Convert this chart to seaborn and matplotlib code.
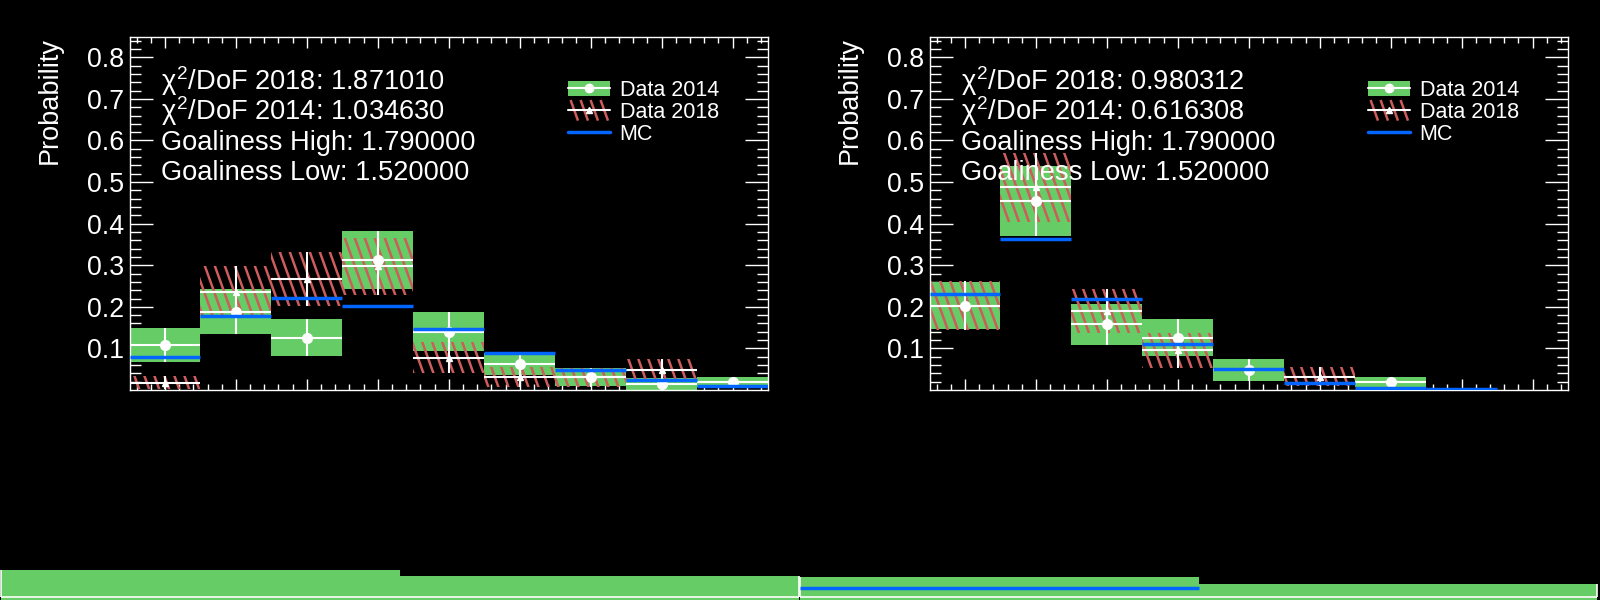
import numpy as np
import matplotlib
matplotlib.use("Agg")
import matplotlib.pyplot as plt
import seaborn as sns
from matplotlib.patches import Rectangle, Patch
from matplotlib.collections import LineCollection
from matplotlib.lines import Line2D
from matplotlib.legend_handler import HandlerBase, HandlerTuple

nan = np.nan

# bins of the upper pads
bins = np.arange(9)

# left pad
left_2014 = [0.109, 0.188, 0.126, 0.313, 0.140, 0.062, 0.031, 0.015, 0.019]
left_2014_err = [0.041, 0.054, 0.044, 0.070, 0.047, 0.026, 0.022, 0.015, 0.012]
left_2018 = [0.018, 0.235, 0.267, 0.297, 0.078, 0.032, 0.031, 0.049, nan]
left_2018_err = [0.016, 0.063, 0.066, 0.069, 0.038, 0.024, 0.023, 0.026, nan]
left_mc = [0.079, 0.177, 0.222, 0.201, 0.146, 0.090, 0.048, 0.024, 0.010]
left_stats = [r"$\chi^{2}$/DoF 2018: 1.871010", r"$\chi^{2}$/DoF 2014: 1.034630",
              "Goaliness High: 1.790000", "Goaliness Low: 1.520000"]

# right pad
right_2014 = [0.203, 0.454, 0.158, 0.126, 0.048, nan, 0.019, nan, nan]
right_2014_err = [0.056, 0.084, 0.049, 0.044, 0.027, nan, 0.012, nan, nan]
right_2018 = [0.203, 0.487, 0.190, 0.095, nan, 0.032, nan, nan, nan]
right_2018_err = [0.058, 0.083, 0.054, 0.041, nan, 0.023, nan, nan, nan]
right_mc = [0.230, 0.362, 0.218, 0.110, 0.050, 0.018, 0.006, 0.003, nan]
right_stats = [r"$\chi^{2}$/DoF 2018: 0.980312", r"$\chi^{2}$/DoF 2014: 0.616308",
               "Goaliness High: 1.790000", "Goaliness Low: 1.520000"]

# lower pads (only a sliver is visible)
low_bins = [0, 1]
low_left = [0.50, 0.40]
low_right = [0.383, 0.267]
low_right_mc = [0.20, nan]

green = "#66cc66"
blue = "#0066ff"
red = "#cd5c5c"

sns.set_theme(style="dark", rc={
    "figure.facecolor": "black", "axes.facecolor": "black",
    "axes.edgecolor": "white", "text.color": "white",
    "axes.labelcolor": "white", "xtick.color": "white",
    "ytick.color": "white", "axes.grid": False, "axes.linewidth": 1.0,
})
plt.rcParams["font.family"] = ["Liberation Sans", "DejaVu Sans"]
plt.rcParams["mathtext.fontset"] = "custom"
plt.rcParams["mathtext.rm"] = "Liberation Sans"
plt.rcParams["mathtext.it"] = "Liberation Sans"
plt.rcParams["mathtext.bf"] = "Liberation Sans:bold"

# hatch: steep "\" lines, ~10 px apart
SLOPE = 0.36
STEP_PX = 10.0
HATCH_LW = 1.8


def hatch_segments(x0, y0, w, h, step):
    # "\" lines clipped to the box [x0, x0+w] x [y0, y0+h]
    segs = []
    for c in np.arange(x0, x0 + w + SLOPE * h + step, step):
        lo = max(0.0, (c - x0 - w) / SLOPE)
        hi = min(h, (c - x0) / SLOPE)
        if hi > lo:
            segs.append([(c - SLOPE * lo, y0 + lo), (c - SLOPE * hi, y0 + hi)])
    return segs


class Hatch18(HandlerBase):
    def create_artists(self, legend, orig, xd, yd, w, h, fs, trans):
        segs = hatch_segments(-xd, -yd - 2, w, h + 4, STEP_PX * 0.72)
        lc = LineCollection(segs, colors=red, linewidths=HATCH_LW, transform=trans)
        ym = -yd + h / 2
        ln = Line2D([-xd, -xd + w], [ym, ym], color="white", lw=1.5, transform=trans)
        mk = Line2D([-xd + w / 2], [ym], marker="^", ms=5, color="white",
                    ls="none", transform=trans)
        return [lc, ln, mk]


def draw_panel(ax, v14, e14, v18, e18, mc, stats, W, H):
    v14, e14 = np.array(v14), np.array(e14)
    v18, e18 = np.array(v18), np.array(e18)
    mc = np.array(mc)
    ax.set_xlim(-0.5, 8.5)
    ax.set_ylim(0, 0.85)

    # data 2014 error boxes
    for x, v, e in zip(bins, v14, e14):
        if np.isnan(v):
            continue
        ax.add_patch(Rectangle((x - 0.5, v - e), 1, 2 * e, fc=green, ec="none", zorder=1))

    # data 2018 hatched error boxes
    cs = np.arange(0, W + SLOPE * H + STEP_PX, STEP_PX)
    segs = [[(c / W, 0), ((c - SLOPE * H) / W, 1)] for c in cs]
    for x, v, e in zip(bins, v18, e18):
        if np.isnan(v):
            continue
        rect = Rectangle((x - 0.5, v - e), 1, 2 * e, transform=ax.transData,
                         fc="none", ec="none")
        ax.add_patch(rect)
        lc = LineCollection(segs, colors=red, linewidths=HATCH_LW,
                            transform=ax.transAxes, zorder=2)
        ax.add_collection(lc, autolim=False)
        lc.set_clip_path(rect)

    m = ~np.isnan(v14)
    ax.errorbar(bins[m], v14[m], xerr=0.5, yerr=e14[m], fmt="o", color="white",
                ms=7, elinewidth=1.5, capsize=0, zorder=3)
    m = ~np.isnan(v18)
    ax.errorbar(bins[m], v18[m], xerr=0.5, yerr=e18[m], fmt="^", color="white",
                ms=5, elinewidth=1.5, capsize=0, zorder=3)
    m = ~np.isnan(mc)
    ax.hlines(mc[m], bins[m] - 0.5, bins[m] + 0.5, color=blue, lw=2.5, zorder=4)

    ax.set_xticks(bins)
    ax.set_xticks(np.arange(-0.4, 8.5, 0.2), minor=True)
    ax.set_yticks(np.arange(0.1, 0.81, 0.1))
    ax.set_yticklabels([f"{t:.1f}" for t in np.arange(0.1, 0.81, 0.1)])
    ax.set_yticks(np.arange(0.02, 0.85, 0.02), minor=True)
    ax.tick_params(which="both", direction="in", top=True, right=True,
                   bottom=True, left=True, labelbottom=False, width=1,
                   colors="white", labelsize=19.3, pad=4)
    ax.tick_params(axis="y", which="major", length=16.5)
    ax.tick_params(axis="y", which="minor", length=8)
    ax.tick_params(axis="x", which="major", length=7.7)
    ax.tick_params(axis="x", which="minor", length=4)
    for sp in ax.spines.values():
        sp.set_color("white")
        sp.set_linewidth(1)

    for i, s in enumerate(stats):
        ax.text(0.049, 0.849 - i * 0.0849, s, transform=ax.transAxes,
                fontsize=19.6, ha="left", va="baseline", color="white")


fig = plt.figure(figsize=(16, 6), dpi=100)
W, H = 638.5, 353.5
ax1 = fig.add_axes([129.5 / 1600, 210 / 600, W / 1600, H / 600])
ax2 = fig.add_axes([929.5 / 1600, 210 / 600, W / 1600, H / 600])

draw_panel(ax1, left_2014, left_2014_err, left_2018, left_2018_err, left_mc, left_stats, W, H)
draw_panel(ax2, right_2014, right_2014_err, right_2018, right_2018_err, right_mc, right_stats, W, H)

for ax, x0 in [(ax1, 0), (ax2, 800)]:
    fig.text((x0 + 50) / 1600, 1 - 36.7 / 600, "Probability", rotation=90,
             ha="center", va="top", fontsize=19.5, color="white")
    h14 = (Patch(fc=green, ec="none"),
           Line2D([], [], color="white", marker="o", ms=6, lw=1.5))
    h18 = Patch(fc="none", ec="none")
    hmc = Line2D([], [], color=blue, lw=2.5)
    ax.legend(handles=[h14, h18, hmc], labels=["Data 2014", "Data 2018", "MC"],
              handler_map={tuple: HandlerTuple(ndivide=1), h18: Hatch18()},
              loc="upper left", bbox_to_anchor=((x0 + 568) / 1600, 1 - 80 / 600),
              bbox_transform=fig.transFigure, frameon=False, fontsize=15.5,
              labelcolor="white", handlelength=1.95, handletextpad=0.45,
              labelspacing=0.04, borderpad=0, borderaxespad=0)

# lower pads, cut off by the canvas edge
for x0, w, vals, mc in [(1, 798, low_left, [nan, nan]), (800, 797, low_right, low_right_mc)]:
    axb = fig.add_axes([x0 / 1600, 0, w / 1600, 0.1])
    sns.barplot(x=low_bins, y=vals, width=1.0, color=green, saturation=1,
                edgecolor="none", linewidth=0, ax=axb, zorder=1)
    axb.set_xlim(-0.5, 1.5)
    axb.set_ylim(0, 1)
    axb.axhline(0.05, color="white", lw=1.2, zorder=3)
    axb.vlines([-0.5, 1.5], 0.05, [vals[0], vals[1]], color="white", lw=1.2,
               clip_on=False, zorder=3)
    mc = np.array(mc)
    mm = ~np.isnan(mc)
    axb.hlines(mc[mm], np.array(low_bins)[mm] - 0.5, np.array(low_bins)[mm] + 0.5,
               color=blue, lw=2.5, zorder=4)
    axb.set_axis_off()

fig.savefig("out.png", dpi=100, facecolor="black")
